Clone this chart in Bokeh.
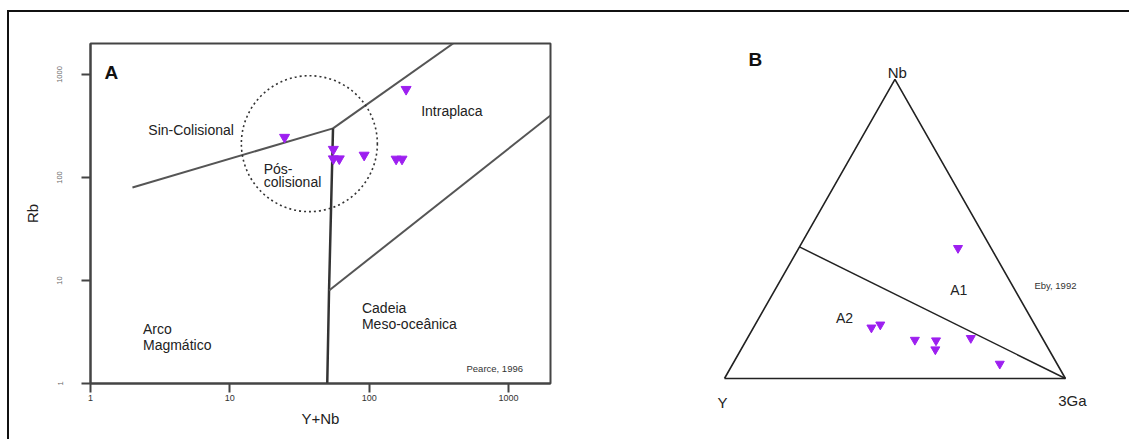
import math
from bokeh.plotting import figure
from bokeh.models import Range1d, FixedTicker, Div, PrintfTickFormatter
from bokeh.layouts import row, column
from bokeh.core.properties import value
from bokeh.embed import file_html
from bokeh.resources import INLINE

FONT = "Liberation Sans"
PURPLE = "#9d1ff0"

# ---------------- Panel A data (Pearce 1996) ----------------
yn_values = [24.7, 55.3, 55.3, 61, 92, 156, 172, 184]
rb_values = [246, 188, 152, 152, 165, 151, 151, 718]
ticks = [1, 10, 100, 1000]
tick_labels = ["1", "10", "100", "1000"]

syn_vag_x = [2, 55]
syn_vag_y = [80, 300]
syn_wpg_x = [55, 400]
syn_wpg_y = [300, 2000]
vag_org_x = [55, 51.5, 50]
vag_org_y = [300, 8, 1]
wpg_org_x = [51.5, 2000]
wpg_org_y = [8, 400]
post_col_x = [37.2]
post_col_y = [213]

a_label_x = [2.6, 17.5, 17.5, 236, 2.38, 2.38, 88.7, 88.7]
a_label_y = [292, 122, 90.2, 439, 3.385, 2.386, 5.36, 3.78]
a_label_t = ["Sin-Colisional", "Pós-", "colisional", "Intraplaca", "Arco", "Magmático",
             "Cadeia", "Meso-oceânica"]

# ---------------- Panel B data (Eby 1992) ----------------
nb_pct = [43.6, 17.0, 18.0, 12.9, 12.7, 9.7, 13.5, 4.9]
y_pct = [9.7, 48.4, 45.3, 37.7, 31.6, 33.3, 21.0, 16.8]
ga3_pct = [46.7, 34.6, 36.7, 49.4, 55.7, 57.0, 65.5, 78.3]

tri_nb = [0, 0, 100, 0]
tri_y = [100, 0, 0, 100]
tri_ga = [0, 100, 0, 0]
bnd_nb = [44, 0]
bnd_y = [56, 0]
bnd_ga = [0, 100]

S3 = math.sqrt(3) / 2


def tern(nb, y, ga):
    xs, ys = [], []
    for a, b, c in zip(nb, y, ga):
        t = a + b + c
        xs.append((c + a / 2) / t)
        ys.append(a * S3 / t)
    return xs, ys


# ---------------- Panel A figure ----------------
pA = figure(width=641, height=427, x_axis_type="log", y_axis_type="log",
            x_range=Range1d(1, 2000), y_range=Range1d(1, 2000),
            output_backend="svg", toolbar_location=None,
            min_border_left=81, min_border_right=100, min_border_top=31,
            min_border_bottom=56, x_axis_label="Y+Nb", y_axis_label="Rb")
pA.frame_align = False
pA.grid.visible = False
pA.outline_line_color = "#444"
pA.outline_line_width = 2
pA.background_fill_color = "white"
pA.border_fill_color = "white"

for ax in pA.axis:
    ax.ticker = FixedTicker(ticks=ticks)
    ax.formatter = PrintfTickFormatter(format="%d")
    ax.major_label_overrides = dict(zip(ticks, tick_labels))
    ax.minor_tick_line_color = None
    ax.major_tick_out = 9
    ax.major_tick_in = 0
    ax.major_tick_line_width = 2
    ax.major_tick_line_color = "#444"
    ax.axis_line_width = 2
    ax.axis_line_color = "#444"
    ax.major_label_text_font = FONT
    ax.axis_label_text_font = FONT
    ax.axis_label_text_font_style = "normal"
    ax.axis_label_text_font_size = "15px"
    ax.axis_label_text_color = "#222"

pA.xaxis.major_label_text_font_size = "9px"
pA.xaxis.major_label_text_color = "#333"
pA.xaxis.major_label_standoff = 2
pA.xaxis.axis_label_standoff = 6
pA.yaxis.major_label_text_font_size = "7.5px"
pA.yaxis.major_label_text_color = "#666"
pA.yaxis.major_label_orientation = "vertical"
pA.yaxis.major_label_standoff = 19
pA.yaxis.axis_label_standoff = 14

line_kw = dict(line_color="#555", line_width=2)
pA.line(syn_vag_x, syn_vag_y, **line_kw)
pA.line(syn_wpg_x, syn_wpg_y, **line_kw)
pA.line(vag_org_x, vag_org_y, line_color="#333", line_width=2.5)
pA.line(wpg_org_x, wpg_org_y, **line_kw)

pA.scatter(post_col_x, post_col_y, marker="circle", size=136, fill_color=None,
           line_color="#333", line_width=1.6, line_dash="2 3")

pA.scatter(yn_values, rb_values, marker="inverted_triangle", size=10,
           fill_color=PURPLE, line_color=PURPLE)

pA.text(a_label_x, a_label_y, text=a_label_t, text_font=value(FONT),
        text_font_size="14px", text_color="#222", text_baseline="alphabetic",
        text_align="left")
pA.text([1.26], [1048], text=["A"], text_font=value(FONT), text_font_size="19px",
        text_font_style="bold", text_color="#111", text_baseline="alphabetic")
pA.text([499], [1.397], text=["Pearce, 1996"], text_font=value(FONT),
        text_font_size="9.5px", text_color="#333", text_baseline="alphabetic")

# ---------------- Panel B figure ----------------
pB = figure(width=479, height=427, x_range=Range1d(-0.217, 1.188),
            y_range=Range1d(-0.1767, 1.060), output_backend="svg",
            toolbar_location=None, x_axis_location=None, y_axis_location=None,
            min_border=0)
pB.frame_align = False
pB.grid.visible = False
pB.outline_line_color = None

tx, ty = tern(tri_nb, tri_y, tri_ga)
pB.line(tx, ty, line_color="#222", line_width=1.6)
bx, by = tern(bnd_nb, bnd_y, bnd_ga)
pB.line(bx, by, line_color="#222", line_width=1.5)

px, py = tern(nb_pct, y_pct, ga3_pct)
pB.scatter(px, py, marker="inverted_triangle", size=9, fill_color=PURPLE,
           line_color=PURPLE)

pB.text([0.507, -0.006, 1.0205], [0.886, -0.0695, -0.0637], text=["Nb", "Y", "3Ga"],
        text_font=value(FONT), text_font_size="15px", text_color="#222",
        text_align="center", text_baseline="alphabetic")
pB.text([0.687, 0.352], [0.257, 0.1746], text=["A1", "A2"], text_font=value(FONT),
        text_font_size="14px", text_color="#222", text_align="center",
        text_baseline="alphabetic")
pB.text([0.0704], [0.924], text=["B"], text_font=value(FONT), text_font_size="19px",
        text_font_style="bold", text_color="#111", text_baseline="alphabetic")
pB.text([0.909], [0.268], text=["Eby, 1992"], text_font=value(FONT),
        text_font_size="9.5px", text_color="#333", text_baseline="alphabetic")

# ---------------- layout with outer border ----------------
top_bar = Div(width=1122, height=2, margin=(10, 0, 0, 7),
              styles={"background-color": "#111"})
left_bar = Div(width=2, height=427, margin=(0, 0, 0, 7),
               styles={"background-color": "#111"})
layout = column(top_bar, row(left_bar, pA, pB, spacing=0), spacing=0)

open("out.html", "w").write(file_html(layout, INLINE))
